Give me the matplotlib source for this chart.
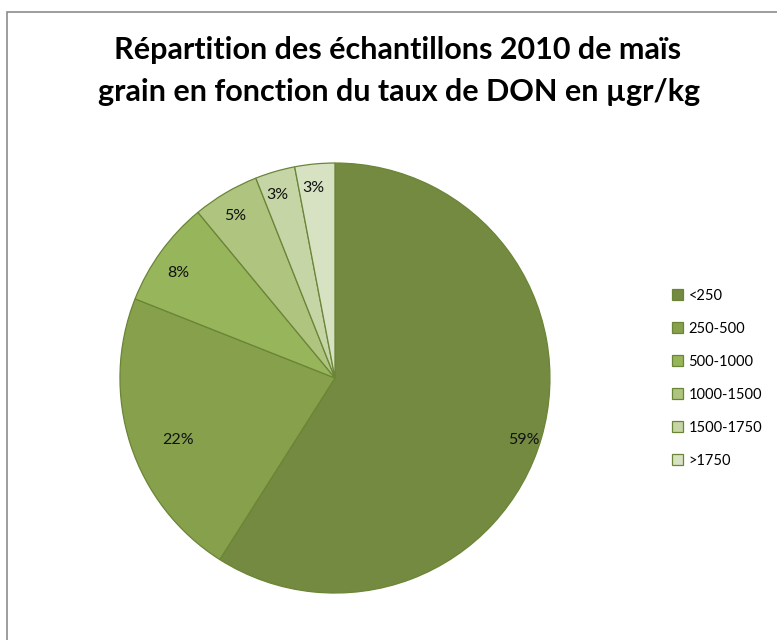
import numpy as np
import matplotlib.pyplot as plt
from matplotlib.patches import Rectangle

categories = ["<250", "250-500", "500-1000", "1000-1500", "1500-1750", ">1750"]
shares = [59, 22, 8, 5, 3, 3]
labels = ["59%", "22%", "8%", "5%", "3%", "3%"]

colors = ["#738A40", "#86A04C", "#97B55A", "#AEC47F", "#C5D5A6", "#D7E2C3"]
label_pos = [(0.88, -0.29), (-0.73, -0.29), (-0.73, 0.49), (-0.465, 0.755), (-0.27, 0.85), (-0.10, 0.885)]

plt.rcParams["font.family"] = ["Lato", "DejaVu Sans"]

fig = plt.figure(figsize=(7.77, 6.4), dpi=100)
fig.patches.append(Rectangle((7 / 777, -0.1), 1.2, (640 - 12) / 640 + 0.1,
                             transform=fig.transFigure, fill=False,
                             edgecolor="#8C8C8C", linewidth=1.2))

ax = fig.add_axes([0.1544, 0.0734, 0.5534, 0.6719])
wedges, _ = ax.pie(shares, colors=colors, startangle=90, counterclock=False,
                   wedgeprops=dict(edgecolor="#6B8537", linewidth=0.9))
ax.set_xlim(-1, 1)
ax.set_ylim(-1, 1)
ax.set_aspect("equal")

for lab, (x, y) in zip(labels, label_pos):
    ax.text(x, y, lab, ha="center", va="center", fontsize=11.5, color="#111111")

fig.text(0.512, 0.922, "Répartition des échantillons 2010 de maïs",
         ha="center", va="center", fontsize=22, fontweight="bold")
fig.text(0.514, 0.856, "grain en fonction du taux de DON en µgr/kg",
         ha="center", va="center", fontsize=22, fontweight="bold")

fig.legend(wedges, categories, loc="upper left", bbox_to_anchor=(0.857, 0.558),
           frameon=False, fontsize=10.5, handlelength=0.75, handleheight=0.75,
           handletextpad=0.4, labelspacing=1.3, borderaxespad=0)

fig.savefig("out.png", dpi=100, facecolor="white")
